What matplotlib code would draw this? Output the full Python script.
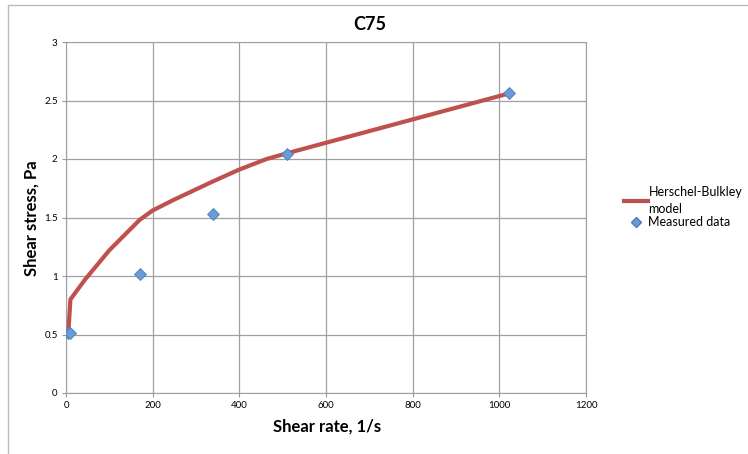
import matplotlib
matplotlib.use("Agg")
import matplotlib.pyplot as plt
from matplotlib.lines import Line2D
from matplotlib.patches import Rectangle

plt.rcParams['font.family'] = ['Lato', 'DejaVu Sans']

# measured viscometer readings
shear_rate = [5.1, 10.2, 170, 340, 511, 1022]
shear_stress = [0.51, 0.51, 1.02, 1.53, 2.04, 2.56]

# Herschel-Bulkley model curve
model_rate = [5.1, 10.2, 44, 100, 170, 200, 248, 294, 340, 400, 463, 511, 1022]
model_stress = [0.5, 0.8, 0.97, 1.22, 1.48, 1.56, 1.65, 1.73, 1.81, 1.91, 2.0, 2.05, 2.56]

x_ticks = [0, 200, 400, 600, 800, 1000, 1200]
y_ticks = [0, 0.5, 1, 1.5, 2, 2.5, 3]
y_labels = ['0', '0.5', '1', '1.5', '2', '2.5', '3']

fig = plt.figure(figsize=(7.48, 4.54), dpi=100)
ax = fig.add_axes([66 / 748, 61 / 454, 520 / 748, 351 / 454])

ax.plot(model_rate, model_stress, color='#C0504D', linewidth=3,
        solid_capstyle='round', zorder=3)
ax.plot(shear_rate, shear_stress, linestyle='none', marker='D', markersize=6,
        markerfacecolor='#6A9BD8', markeredgecolor='#4A7EBB',
        markeredgewidth=0.6, zorder=4)

ax.set_xlim(0, 1200)
ax.set_ylim(0, 3)
ax.set_xticks(x_ticks)
ax.set_yticks(y_ticks)
ax.set_yticklabels(y_labels)
ax.tick_params(labelsize=7, length=3, color='#999999', pad=3)
ax.grid(True, color='#A0A0A0', linewidth=0.9)
ax.set_axisbelow(True)
for side in ['top', 'right', 'left', 'bottom']:
    ax.spines[side].set_color('#A0A0A0')

fig.text(327 / 748, 1 - 427 / 454, 'Shear rate, 1/s', fontsize=12,
         fontweight='bold', ha='center', va='center')
fig.text(32 / 748, 1 - 218 / 454, 'Shear stress, Pa', fontsize=12,
         fontweight='bold', ha='center', va='center', rotation=90)
fig.text(370 / 748, 1 - 25 / 454, 'C75', fontsize=13, fontweight='bold',
         ha='center', va='center')

handles = [
    Line2D([], [], color='#C0504D', linewidth=3),
    Line2D([], [], linestyle='none', marker='D', markersize=5,
           markerfacecolor='#6A9BD8', markeredgecolor='#4A7EBB'),
]
leg = fig.legend(handles, ['Herschel-Bulkley\nmodel', 'Measured data'],
                 loc='upper left', bbox_to_anchor=(624 / 748, 1 - 186 / 454),
                 frameon=False, fontsize=9, handlelength=1.9,
                 handletextpad=0.05, labelspacing=0.15, borderaxespad=0,
                 borderpad=0)
for t in leg.get_texts():
    t.set_linespacing(1.45)

# chart-area border (only top and left edges show)
fig.patches.append(Rectangle((8 / 748, -0.1), 1.1, 1 - 5 / 454 + 0.1,
                             transform=fig.transFigure, fill=False,
                             edgecolor='#BBBBBB', linewidth=1))

fig.savefig('out.png', dpi=100)
